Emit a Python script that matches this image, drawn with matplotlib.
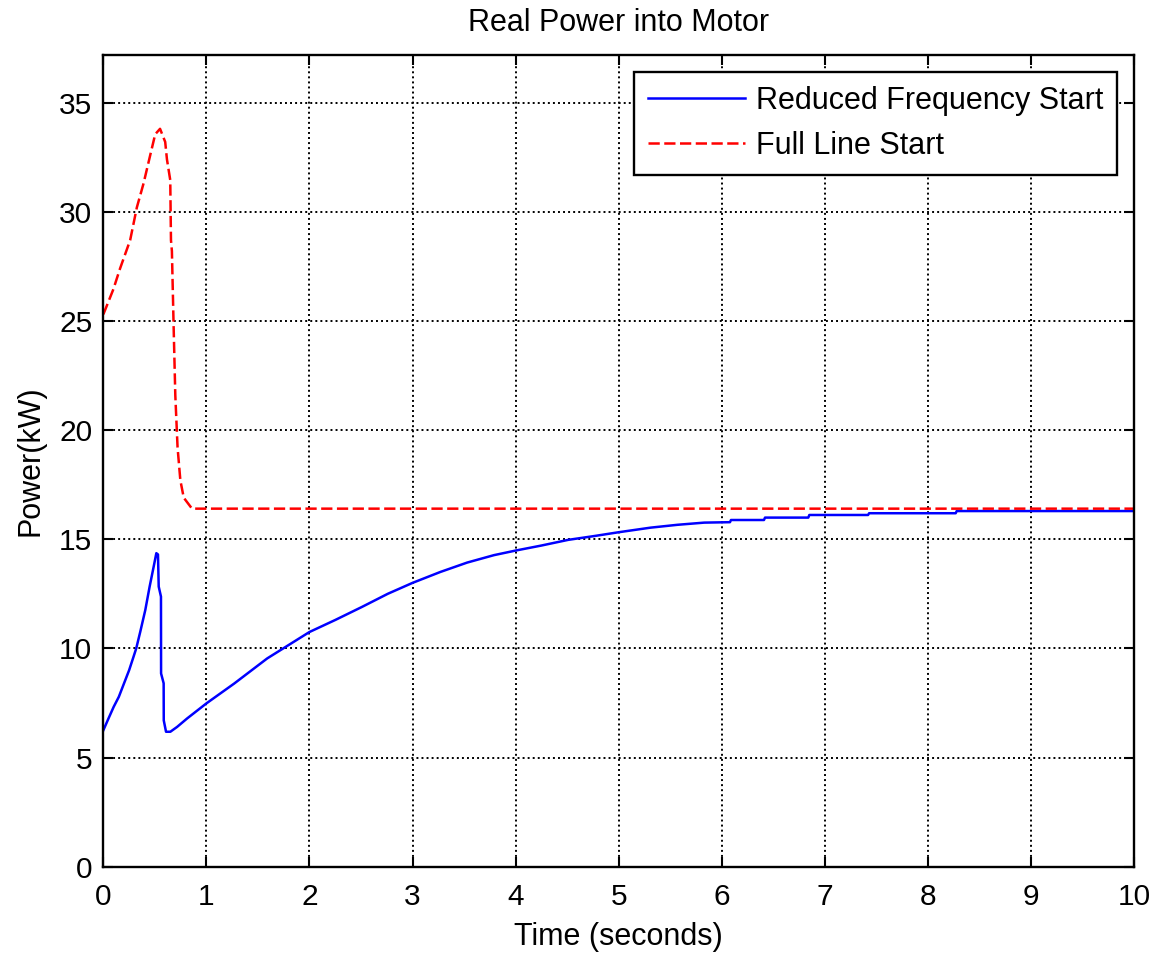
import numpy as np
import matplotlib
matplotlib.use("Agg")
import matplotlib.pyplot as plt

plt.rcParams['font.family'] = ['Liberation Sans', 'DejaVu Sans']

# reduced frequency start (blue)
t_reduced = [0, 0.05, 0.1, 0.15, 0.2, 0.25, 0.293, 0.319, 0.358, 0.407, 0.449, 0.488,
             0.514, 0.53, 0.537, 0.559, 0.56, 0.585, 0.586, 0.608, 0.65, 0.715, 0.813,
             1.0, 1.27, 1.59, 2.0, 2.25, 2.51, 2.76, 3.0, 3.27, 3.53, 3.79, 4.0, 4.25,
             4.51, 4.77, 5.0, 5.31, 5.57, 5.83, 6.08, 6.09, 6.41, 6.42, 6.84, 6.85,
             7.42, 7.43, 8.27, 8.28, 10.0]
p_reduced = [6.25, 6.79, 7.32, 7.78, 8.39, 9.0, 9.62, 10.0, 10.76, 11.76, 12.83, 13.74,
             14.36, 14.3, 12.83, 12.37, 8.85, 8.4, 6.7, 6.18, 6.18, 6.4, 6.79,
             7.48, 8.39, 9.54, 10.75, 11.3, 11.9, 12.5, 13.0, 13.5, 13.93, 14.27, 14.48, 14.71,
             14.97, 15.15, 15.32, 15.53, 15.66, 15.76, 15.78, 15.88, 15.88, 15.99, 15.99, 16.11,
             16.11, 16.19, 16.19, 16.29, 16.29]

# full line start (red dashed)
t_full = [0, 0.097, 0.162, 0.26, 0.325, 0.39, 0.455, 0.503, 0.55, 0.60, 0.617, 0.649,
          0.656, 0.665, 0.682, 0.698, 0.72, 0.747, 0.78, 0.86, 10.0]
p_full = [25.3, 26.45, 27.4, 28.7, 30.2, 31.3, 32.6, 33.55, 33.8, 33.2, 32.4, 31.45,
          28.7, 28.2, 24.7, 21.6, 19.2, 17.7, 16.9, 16.4, 16.4]

xticks = np.arange(0, 11, 1)
yticks = np.arange(0, 40, 5)

fig = plt.figure(figsize=(11.64, 9.57), dpi=100)
ax = fig.add_axes([0.0888, 0.0944, 0.9742 - 0.0888, 0.9425 - 0.0944])

ax.plot(t_reduced, p_reduced, color='blue', lw=1.8, label='Reduced Frequency Start')
ax.plot(t_full, p_full, color='red', lw=1.8, linestyle=(0, (4.5, 1.8)), label='Full Line Start')

ax.set_xlim(0, 10)
ax.set_ylim(0, 37.18)
ax.set_xticks(xticks)
ax.set_yticks(yticks)
ax.grid(True, color='black', linestyle=(0, (1, 1.6)), lw=1.4)
ax.tick_params(direction='in', length=7, width=1.5, top=True, right=True, labelsize=21.5)
ax.tick_params(axis='x', pad=12)
ax.tick_params(axis='y', pad=8)
for s in ax.spines.values():
    s.set_linewidth(1.7)

ax.set_title('Real Power into Motor', fontsize=22, pad=17)
ax.set_xlabel('Time (seconds)', fontsize=22, labelpad=8)
ax.set_ylabel('Power(kW)', fontsize=22, labelpad=10)

leg = ax.legend(loc='upper right', fontsize=22, fancybox=False, framealpha=1,
                edgecolor='black', handlelength=3.2, handletextpad=0.35,
                borderaxespad=0.55, borderpad=0.45, labelspacing=0.5)
leg.get_frame().set_linewidth(1.7)

fig.savefig('out.png', dpi=100)
